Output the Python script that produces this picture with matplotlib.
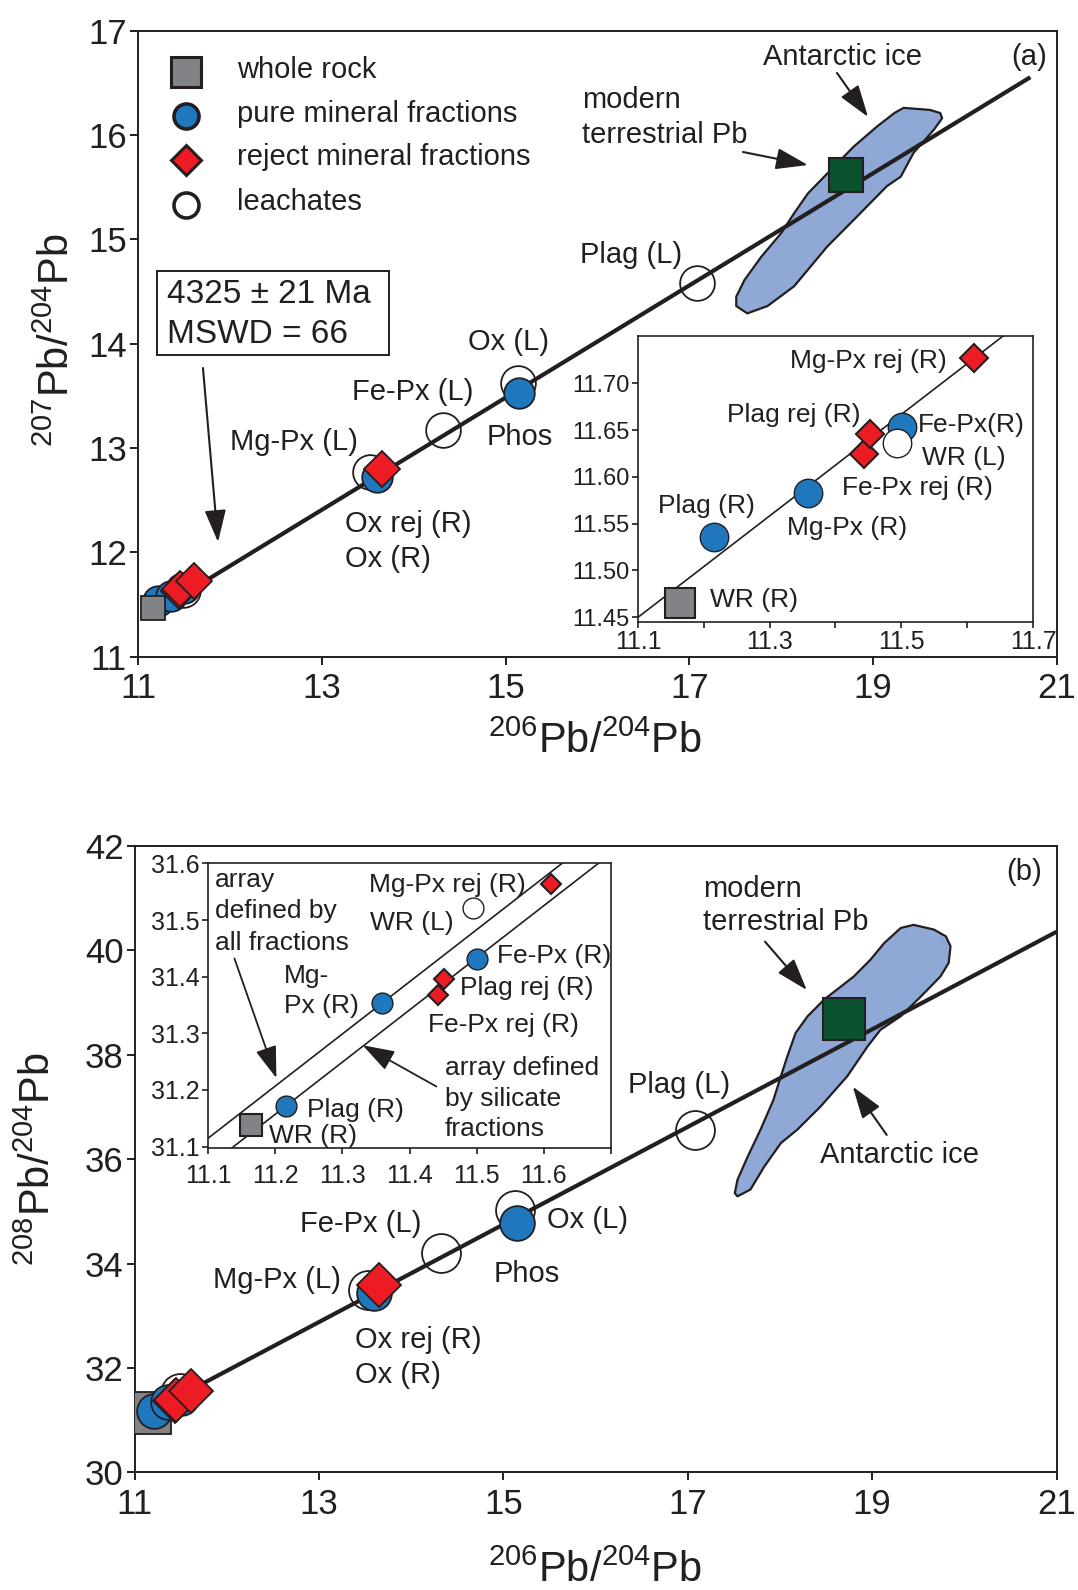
import numpy as np
import matplotlib
matplotlib.use("Agg")
import matplotlib.pyplot as plt
from matplotlib.patches import Polygon, Rectangle

plt.rcParams['font.family'] = ['Liberation Sans', 'DejaVu Sans']
plt.rcParams['mathtext.fontset'] = 'custom'
plt.rcParams['mathtext.rm'] = 'Liberation Sans'

INK = '#231f20'
BLUE = '#1f78be'
RED = '#ed1c24'
GREY = '#828386'
GREEN = '#0a5230'
ICE = '#8fa8d6'

# --- data (206Pb/204Pb, 207Pb/204Pb, 208Pb/204Pb) ---
# whole rock
wr_x = [11.164]
wr_y7 = [11.465]
wr_y8 = [31.138]
# pure mineral fractions: Plag (R), Mg-Px (R), Fe-Px (R), Ox (R), Phos
pure_x = [11.216, 11.359, 11.501, 13.60, 15.15]
pure_y7 = [11.536, 11.583, 11.653, 12.724, 13.529]
pure_y8 = [31.172, 31.353, 31.432, 33.44, 34.78]
# reject mineral fractions: Fe-Px rej, Plag rej, Mg-Px rej, Ox rej
rej_x = [11.443, 11.452, 11.611, 13.65]
rej_y7 = [11.624, 11.646, 11.727, 12.795]
rej_y8 = [31.368, 31.396, 31.563, 33.60]
# leachates: WR (L), Mg-Px (L), Fe-Px (L), Ox (L), Plag (L)
leach_x = [11.494, 13.53, 14.32, 15.13, 17.08]
leach_y7 = [11.636, 12.772, 13.172, 13.619, 14.578]
leach_y8 = [31.521, 33.50, 34.20, 35.03, 36.57]
# modern terrestrial Pb
modern_x = [18.70]
modern_y7 = [15.62]
modern_y8 = [38.69]

# Antarctic ice field outlines
ice7_x = [17.51, 17.63, 17.85, 18.14, 18.50, 18.86, 19.15, 19.30, 19.44, 19.66, 19.75, 19.73,
          19.62, 19.48, 19.33, 19.23, 19.04, 18.79, 18.50, 18.29, 18.14, 18.00, 17.78, 17.60, 17.51]
ice7_y = [14.36, 14.29, 14.36, 14.55, 14.93, 15.25, 15.51, 15.60, 15.83, 16.05, 16.16, 16.21,
          16.24, 16.25, 16.26, 16.21, 16.08, 15.89, 15.63, 15.44, 15.25, 15.06, 14.83, 14.61, 14.45]
ice8_x = [17.54, 17.68, 17.83, 18.01, 18.19, 18.44, 18.73, 18.95, 19.09, 19.31, 19.53, 19.74,
          19.83, 19.85, 19.80, 19.67, 19.45, 19.31, 19.13, 18.98, 18.80, 18.48, 18.30, 18.17,
          18.08, 18.01, 17.93, 17.79, 17.65, 17.54, 17.51]
ice8_y = [35.29, 35.42, 35.86, 36.31, 36.57, 37.01, 37.59, 38.16, 38.48, 38.74, 39.12, 39.50,
          39.76, 40.08, 40.27, 40.40, 40.49, 40.43, 40.14, 39.82, 39.50, 39.06, 38.74, 38.42,
          37.97, 37.59, 37.14, 36.57, 36.05, 35.61, 35.35]

# regression arrays as drawn (x0, y at x0, slope)
line7 = (11.0, 11.330, 0.538)
line8 = (11.0, 31.012, 0.9346)
inset7_line = (11.1, 11.450, 0.5415)
inset8_all = (11.1, 31.115, 0.92)
inset8_sil = (11.216, 31.172, 0.92)


def line_y(par, x):
    x0, y0, m = par
    return y0 + m * (np.asarray(x) - x0)


def style(ax, lw, tlen, xfs, yfs, xpad, ypad):
    for s in ax.spines.values():
        s.set_linewidth(lw)
        s.set_color(INK)
    ax.tick_params(direction='out', length=tlen, width=lw, colors=INK)
    ax.tick_params(axis='x', pad=xpad, labelsize=xfs)
    ax.tick_params(axis='y', pad=ypad, labelsize=yfs)


def arrow(ax, tail, head, lw=1.5):
    ax.annotate('', xy=head, xytext=tail,
                arrowprops=dict(arrowstyle='-|>,head_length=0.9,head_width=0.3', color=INK,
                                lw=lw, shrinkA=0, shrinkB=0, mutation_scale=22))


def labels(ax, items, fs, **kw):
    for txt, x, y in items:
        ax.text(x, y, txt, fontsize=fs, color=INK, va='baseline', **kw)


def draw_main(ax, y_wr, y_pure, y_rej, y_leach, y_mod, ice_x, ice_y, par, xend, sizes, wr_top):
    s_wr, s_pure, s_rej, s_leach, s_mod = sizes
    ax.add_patch(Polygon(np.column_stack([ice_x, ice_y]), closed=True, facecolor=ICE,
                         edgecolor=INK, lw=1.6, joinstyle='round', zorder=1))
    lx = np.array([11.15, xend])
    ax.plot(lx, line_y(par, lx), color=INK, lw=3.0, solid_capstyle='butt', zorder=2)
    ax.plot(leach_x, y_leach, 'o', ms=s_leach, mfc='none', mec=INK, mew=1.3, zorder=3)
    ax.plot(wr_x, y_wr, 's', ms=s_wr, mfc=GREY, mec=INK, mew=1.3, zorder=4.5 if wr_top else 3.5)
    ax.plot(pure_x, y_pure, 'o', ms=s_pure, mfc=BLUE, mec=INK, mew=1.3, zorder=4)
    ax.plot(rej_x, y_rej, 'D', ms=s_rej, mfc=RED, mec=INK, mew=1.3, zorder=5)
    ax.plot(modern_x, y_mod, 's', ms=s_mod, mfc=GREEN, mec=INK, mew=1.5, zorder=5)


def draw_inset(ax, y_wr, y_pure, y_rej, y_leach, sizes):
    s_wr, s_pure, s_rej, s_leach = sizes
    ax.plot(wr_x, y_wr, 's', ms=s_wr, mfc=GREY, mec=INK, mew=1.5, zorder=3, clip_on=False)
    ax.plot(pure_x, y_pure, 'o', ms=s_pure, mfc=BLUE, mec=INK, mew=1.0, zorder=4)
    ax.plot(rej_x, y_rej, 'D', ms=s_rej, mfc=RED, mec=INK, mew=1.5, zorder=5)
    ax.plot(leach_x, y_leach, 'o', ms=s_leach, mfc='white', mec=INK, mew=1.0, zorder=6)


fig = plt.figure(figsize=(10.78, 15.9), dpi=100)

# ---------------- panel (a) ----------------
ax1 = fig.add_axes([0.1280, 0.5871, 0.8525, 0.3936])
ax1.set_xlim(11, 21)
ax1.set_ylim(11, 17)
ax1.set_xticks(np.arange(11, 22, 2))
ax1.set_yticks(np.arange(11, 18, 1))
style(ax1, 1.4, 6, 25, 25, 5, 2)
draw_main(ax1, wr_y7, pure_y7, rej_y7, leach_y7, modern_y7, ice7_x, ice7_y, line7, 20.71,
          (17, 22, 18, 25, 24), True)

# legend
leg_y = [16.607, 16.182, 15.760, 15.329]
leg_txt = ['whole rock', 'pure mineral fractions', 'reject mineral fractions', 'leachates']
ax1.plot(11.522, leg_y[0], 's', ms=21, mfc=GREY, mec=INK, mew=2.2)
ax1.plot(11.522, leg_y[1], 'o', ms=18, mfc=BLUE, mec=INK, mew=2.6)
ax1.plot(11.522, leg_y[2], 'D', ms=15, mfc=RED, mec=INK, mew=2.2)
ax1.plot(11.522, leg_y[3], 'o', ms=18, mfc='white', mec=INK, mew=2.6)
for t, y in zip(leg_txt, [16.544, 16.128, 15.712, 15.280]):
    ax1.text(12.074, y, t, fontsize=21, color=INK, va='baseline')

ax1.add_patch(Rectangle((11.21, 13.891), 2.525, 0.808, fill=False, ec=INK, lw=1.4, zorder=6))
ax1.text(11.312, 14.389, '4325 \u00b1 21 Ma', fontsize=24, color=INK, va='baseline')
ax1.text(11.312, 14.006, 'MSWD = 66', fontsize=24, color=INK, va='baseline')
arrow(ax1, (11.707, 13.766), (11.871, 12.098))

labels(ax1, [('modern', 15.831, 16.259), ('terrestrial Pb', 15.831, 15.923),
             ('Antarctic ice', 17.801, 16.672), ('Plag (L)', 15.810, 14.773),
             ('Ox (L)', 14.591, 13.939), ('Fe-Px (L)', 13.329, 13.459),
             ('Phos', 14.798, 13.028), ('Mg-Px (L)', 12.001, 12.980),
             ('Ox rej (R)', 13.252, 12.194), ('Ox (R)', 13.252, 11.858)], 21)
ax1.text(20.891, 16.672, '(a)', fontsize=21, color=INK, va='baseline', ha='right')
arrow(ax1, (17.583, 15.837), (18.290, 15.712))
arrow(ax1, (18.606, 16.595), (18.944, 16.173))

# inset (a)
ia = fig.add_axes([0.5918, 0.6088, 0.3664, 0.1799])
ia.set_xlim(11.1, 11.7)
ia.set_ylim(11.445, 11.7504)
ia.set_xticks(np.arange(11.1, 11.71, 0.1))
ia.set_xticklabels(['11.1', '', '11.3', '', '11.5', '', '11.7'])
ia.set_yticks(np.arange(11.45, 11.701, 0.05))
ia.set_yticklabels(['%.2f' % v for v in np.arange(11.45, 11.701, 0.05)])
style(ia, 1.2, 4, 18, 17, 2, 2)
lx = np.array([11.0, 11.8])
ia.plot(lx, line_y(inset7_line, lx), color=INK, lw=1.2, zorder=2)
draw_inset(ia, wr_y7, pure_y7, rej_y7, leach_y7, (21, 20.5, 14.5, 20.5))
labels(ia, [('Mg-Px rej (R)', 11.331, 11.716), ('Plag rej (R)', 11.235, 11.659),
            ('Fe-Px(R)', 11.525, 11.648), ('WR (L)', 11.531, 11.613),
            ('Fe-Px rej (R)', 11.410, 11.581), ('Plag (R)', 11.130, 11.561),
            ('Mg-Px (R)', 11.326, 11.538), ('WR (R)', 11.209, 11.461)], 19)

# ---------------- panel (b) ----------------
ax2 = fig.add_axes([0.1248, 0.0739, 0.8553, 0.3940])
ax2.set_xlim(11, 21)
ax2.set_ylim(30, 42)
ax2.set_xticks(np.arange(11, 22, 2))
ax2.set_yticks(np.arange(30, 43, 2))
style(ax2, 1.4, 6, 25, 25, 5, 2)
draw_main(ax2, wr_y8, pure_y8, rej_y8, leach_y8, modern_y8, ice8_x, ice8_y, line8, 21.0,
          (30, 25, 22, 28, 30), False)

labels(ax2, [('modern', 17.169, 41.031), ('terrestrial Pb', 17.169, 40.393),
             ('Antarctic ice', 18.435, 35.923), ('Plag (L)', 16.356, 37.264),
             ('Ox (L)', 15.471, 34.678), ('Fe-Px (L)', 12.795, 34.613),
             ('Phos', 14.892, 33.655), ('Mg-Px (L)', 11.855, 33.534),
             ('Ox rej (R)', 13.392, 32.379), ('Ox (R)', 13.392, 31.709)], 21)
ax2.text(20.839, 41.351, '(b)', fontsize=21, color=INK, va='baseline', ha='right')
arrow(ax2, (17.838, 40.169), (18.291, 39.243))
arrow(ax2, (19.158, 36.466), (18.790, 37.391))

# inset (b)
ib = fig.add_axes([0.1932, 0.2778, 0.3735, 0.1792])
ib.set_xlim(11.1, 11.7)
ib.set_ylim(31.097, 31.6)
ib.set_xticks(np.arange(11.1, 11.71, 0.1))
ib.set_xticklabels(['11.1', '11.2', '11.3', '11.4', '11.5', '11.6', ''])
ib.set_yticks(np.arange(31.1, 31.61, 0.1))
ib.set_yticklabels(['%.1f' % v for v in np.arange(31.1, 31.61, 0.1)])
style(ib, 1.2, 4, 18, 18, 7, 2)
lx = np.array([11.0, 11.8])
ib.plot(lx, line_y(inset8_all, lx), color=INK, lw=1.2, zorder=2)
ib.plot(lx, line_y(inset8_sil, lx), color=INK, lw=1.2, zorder=2)
draw_inset(ib, wr_y8, pure_y8, rej_y8, leach_y8, (15.5, 15, 10.5, 15))
labels(ib, [('array', 11.110, 31.559), ('defined by', 11.110, 31.503),
            ('all fractions', 11.110, 31.447), ('Mg-Px rej (R)', 11.34, 31.550),
            ('WR (L)', 11.341, 31.482), ('Mg-', 11.2125, 31.388), ('Px (R)', 11.2125, 31.335),
            ('Fe-Px (R)', 11.530, 31.424), ('Plag rej (R)', 11.475, 31.368),
            ('Fe-Px rej (R)', 11.427, 31.303), ('array defined', 11.4525, 31.2265),
            ('by silicate', 11.4525, 31.171), ('fractions', 11.4525, 31.118),
            ('Plag (R)', 11.2475, 31.153), ('WR (R)', 11.19, 31.106)], 19)
arrow(ib, (11.139, 31.432), (11.2015, 31.221), lw=1.3)
arrow(ib, (11.44, 31.206), (11.33, 31.279), lw=1.3)

# axis titles
lab7 = r'$\mathregular{^{207}Pb/^{204}Pb}$'
lab8 = r'$\mathregular{^{208}Pb/^{204}Pb}$'
lab6 = r'$\mathregular{^{206}Pb/^{204}Pb}$'
fig.text(0.0538, 0.7862, lab7, fontsize=30, color=INK, rotation=90, ha='center', va='center')
fig.text(0.0357, 0.2710, lab8, fontsize=30, color=INK, rotation=90, ha='center', va='center')
fig.text(0.552, 0.5264, lab6, fontsize=30, color=INK, ha='center', va='baseline')
fig.text(0.552, 0.0050, lab6, fontsize=30, color=INK, ha='center', va='baseline')

fig.savefig('out.png', dpi=100)
